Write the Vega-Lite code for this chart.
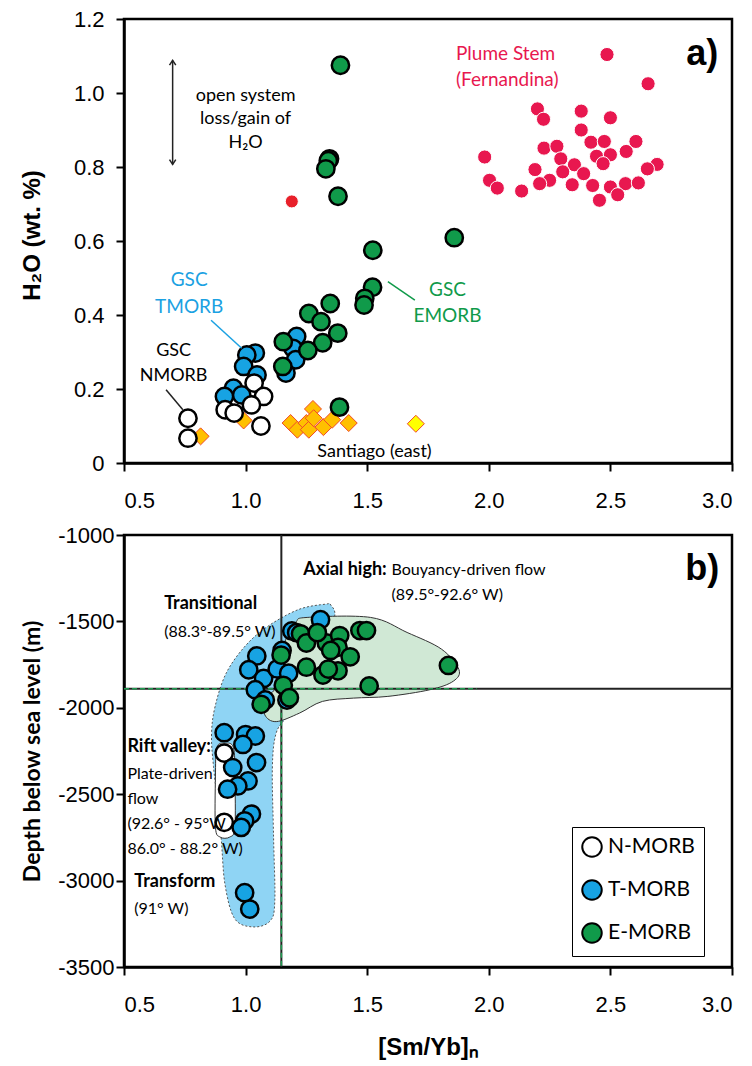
{
  "$schema": "https://vega.github.io/schema/vega-lite/v6.json",
  "background": "white",
  "padding": {"left": 18, "top": 6, "right": 5, "bottom": 5},
  "spacing": 9,
  "config": {
    "view": {"stroke": "black", "strokeWidth": 2.5},
    "axis": {"grid": false, "domainColor": "black", "domainWidth": 2.5, "tickColor": "black", "tickWidth": 2, "tickSize": 8, "labelFont": "Liberation Sans", "labelFontSize": 22, "labelColor": "black", "labelPadding": 4, "titleFont": "Liberation Sans", "titleFontSize": 24, "titleFontWeight": "bold", "titleColor": "black"},
    "axisX": {"labelPadding": 19}
  },
  "resolve": {"scale": {"fill": "independent"}, "legend": {"fill": "independent"}},
  "vconcat": [
    {
      "width": 608,
      "height": 444,
      "encoding": {
        "x": {"field": "x", "type": "quantitative", "scale": {"domain": [0.5, 3], "nice": false, "zero": false}, "axis": {"values": [0.5, 1, 1.5, 2, 2.5, 3], "format": ".1f", "title": null}},
        "y": {"field": "y", "type": "quantitative", "scale": {"domain": [0, 1.2], "nice": false, "zero": false}, "axis": {"values": [0, 0.2, 0.4, 0.6, 0.8, 1, 1.2], "labelExpr": "datum.value == 0 ? '0' : format(datum.value, '.1f')", "labelPadding": 12, "title": "H₂O (wt. %)", "titleX": -92, "titleY": 216, "titleBaseline": "middle"}}
      },
      "layer": [
        {
          "data": {"values": [{"y": 0.065, "y2": 0.365}]},
          "mark": {"type": "rect", "fill": "#d4d4d6"},
          "encoding": {"x": {"datum": 0.5}, "x2": {"datum": 3.0}, "y2": {"field": "y2"}}
        },
        {
          "data": {"values": [
            {"x": 0.815, "y": 0.072}, {"x": 0.992, "y": 0.115}, {"x": 1.185, "y": 0.108}, {"x": 1.213, "y": 0.09}, {"x": 1.25, "y": 0.108}, {"x": 1.277, "y": 0.146}, {"x": 1.26, "y": 0.09}, {"x": 1.28, "y": 0.121}, {"x": 1.32, "y": 0.097}, {"x": 1.356, "y": 0.117}, {"x": 1.424, "y": 0.108}
          ]},
          "mark": {"type": "point", "shape": "diamond", "filled": true, "fill": "#ffc000", "stroke": "#f04a28", "strokeWidth": 1, "size": 290, "opacity": 1}
        },
        {
          "data": {"values": [{"x": 1.70, "y": 0.106}]},
          "mark": {"type": "point", "shape": "diamond", "filled": true, "fill": "#ffff00", "stroke": "#f04a28", "strokeWidth": 1, "size": 290, "opacity": 1}
        },
        {
          "data": {"values": [
            {"x": 1.21, "y": 0.342, "type": "T-MORB"}, {"x": 1.195, "y": 0.31, "type": "T-MORB"}, {"x": 1.206, "y": 0.279, "type": "T-MORB"}, {"x": 1.166, "y": 0.243, "type": "T-MORB"}, {"x": 1.04, "y": 0.297, "type": "T-MORB"}, {"x": 1.005, "y": 0.292, "type": "T-MORB"}, {"x": 0.992, "y": 0.261, "type": "T-MORB"}, {"x": 1.047, "y": 0.238, "type": "T-MORB"}, {"x": 0.95, "y": 0.202, "type": "T-MORB"}, {"x": 0.913, "y": 0.18, "type": "T-MORB"}, {"x": 0.984, "y": 0.184, "type": "T-MORB"},
            {"x": 0.763, "y": 0.121, "type": "N-MORB"}, {"x": 0.763, "y": 0.067, "type": "N-MORB"}, {"x": 1.035, "y": 0.216, "type": "N-MORB"}, {"x": 1.074, "y": 0.18, "type": "N-MORB"}, {"x": 1.024, "y": 0.157, "type": "N-MORB"}, {"x": 0.916, "y": 0.144, "type": "N-MORB"}, {"x": 0.953, "y": 0.135, "type": "N-MORB"}, {"x": 1.063, "y": 0.10, "type": "N-MORB"},
            {"x": 1.39, "y": 1.075, "type": "E-MORB"}, {"x": 1.345, "y": 0.822, "type": "E-MORB"}, {"x": 1.34, "y": 0.817, "type": "E-MORB"}, {"x": 1.33, "y": 0.795, "type": "E-MORB"}, {"x": 1.38, "y": 0.721, "type": "E-MORB"}, {"x": 1.858, "y": 0.609, "type": "E-MORB"}, {"x": 1.523, "y": 0.575, "type": "E-MORB"}, {"x": 1.522, "y": 0.475, "type": "E-MORB"}, {"x": 1.49, "y": 0.445, "type": "E-MORB"}, {"x": 1.487, "y": 0.427, "type": "E-MORB"}, {"x": 1.348, "y": 0.431, "type": "E-MORB"}, {"x": 1.26, "y": 0.404, "type": "E-MORB"}, {"x": 1.31, "y": 0.382, "type": "E-MORB"}, {"x": 1.379, "y": 0.351, "type": "E-MORB"}, {"x": 1.317, "y": 0.325, "type": "E-MORB"}, {"x": 1.256, "y": 0.304, "type": "E-MORB"}, {"x": 1.155, "y": 0.328, "type": "E-MORB"}, {"x": 1.153, "y": 0.261, "type": "E-MORB"}, {"x": 1.386, "y": 0.151, "type": "E-MORB"}
          ]},
          "mark": {"type": "point", "shape": "circle", "filled": true, "stroke": "black", "strokeWidth": 2.5, "size": 300, "opacity": 1},
          "encoding": {"fill": {"field": "type", "type": "nominal", "scale": {"domain": ["N-MORB", "T-MORB", "E-MORB"], "range": ["white", "#17a3e3", "#109a4a"]}, "legend": null}}
        },
        {
          "data": {"values": [
            {"x": 2.486, "y": 1.104}, {"x": 2.655, "y": 1.025}, {"x": 2.2, "y": 0.957}, {"x": 2.225, "y": 0.929}, {"x": 2.38, "y": 0.951}, {"x": 2.5, "y": 0.933}, {"x": 2.38, "y": 0.9}, {"x": 2.227, "y": 0.851}, {"x": 2.28, "y": 0.856}, {"x": 2.42, "y": 0.867}, {"x": 2.475, "y": 0.869}, {"x": 2.605, "y": 0.869}, {"x": 2.565, "y": 0.842}, {"x": 1.983, "y": 0.827}, {"x": 2.296, "y": 0.822}, {"x": 2.443, "y": 0.829}, {"x": 2.5, "y": 0.833}, {"x": 2.47, "y": 0.809}, {"x": 2.352, "y": 0.806}, {"x": 2.692, "y": 0.807}, {"x": 2.652, "y": 0.795}, {"x": 2.19, "y": 0.793}, {"x": 2.304, "y": 0.787}, {"x": 2.39, "y": 0.782}, {"x": 2.25, "y": 0.764}, {"x": 2.209, "y": 0.755}, {"x": 2.003, "y": 0.764}, {"x": 2.035, "y": 0.743}, {"x": 2.135, "y": 0.735}, {"x": 2.343, "y": 0.752}, {"x": 2.427, "y": 0.75}, {"x": 2.5, "y": 0.746}, {"x": 2.562, "y": 0.755}, {"x": 2.615, "y": 0.757}, {"x": 2.455, "y": 0.71}, {"x": 2.53, "y": 0.725}
          ]},
          "mark": {"type": "point", "shape": "circle", "filled": true, "fill": "#e8174f", "stroke": "white", "strokeWidth": 1, "size": 200, "opacity": 1}
        },
        {
          "data": {"values": [{"x": 1.19, "y": 0.707}]},
          "mark": {"type": "point", "shape": "circle", "filled": true, "fill": "#e8202a", "stroke": "white", "strokeWidth": 1, "size": 170, "opacity": 1}
        },
        {
          "data": {"values": [{"x": 0.858, "y": 0.386, "x2": 0.984, "y2": 0.31}]},
          "mark": {"type": "rule", "color": "#1ba1e2", "strokeWidth": 1.5},
          "encoding": {"x2": {"field": "x2"}, "y2": {"field": "y2"}}
        },
        {
          "data": {"values": [{"x": 1.585, "y": 0.49, "x2": 1.696, "y2": 0.44}]},
          "mark": {"type": "rule", "color": "#109a4a", "strokeWidth": 1.5},
          "encoding": {"x2": {"field": "x2"}, "y2": {"field": "y2"}}
        },
        {
          "data": {"values": [{"x": 0.673, "y": 0.198, "x2": 0.742, "y2": 0.144}, {"x": 0.70, "y": 0.807, "x2": 0.70, "y2": 1.088}]},
          "mark": {"type": "rule", "color": "#222222", "strokeWidth": 1.5},
          "encoding": {"x2": {"field": "x2"}, "y2": {"field": "y2"}}
        },
        {
          "data": {"values": [{"x": 0.70, "y": 1.088}]},
          "mark": {"type": "point", "shape": "M-0.6,0.9L0,0L0.6,0.9", "filled": false, "stroke": "#222222", "strokeWidth": 1.5, "size": 110, "opacity": 1}
        },
        {
          "data": {"values": [{"x": 0.70, "y": 0.807}]},
          "mark": {"type": "point", "shape": "M-0.6,-0.9L0,0L0.6,-0.9", "filled": false, "stroke": "#222222", "strokeWidth": 1.5, "size": 110, "opacity": 1}
        },
        {
          "data": {"values": [
            {"x": 1.0, "y": 0.993, "t": "open system"}, {"x": 1.0, "y": 0.93, "t": "loss/gain of"}, {"x": 1.0, "y": 0.865, "t": "H₂O"},
            {"x": 0.704, "y": 0.302, "t": "GSC"}, {"x": 0.704, "y": 0.234, "t": "NMORB"},
            {"x": 1.53, "y": 0.031, "t": "Santiago (east)"}
          ]},
          "mark": {"type": "text", "font": "Lato", "fontSize": 18, "color": "black", "align": "center", "baseline": "middle"},
          "encoding": {"text": {"field": "t"}}
        },
        {
          "data": {"values": [{"x": 1.865, "y": 1.105, "t": "Plume Stem"}, {"x": 1.865, "y": 1.034, "t": "(Fernandina)"}]},
          "mark": {"type": "text", "font": "Lato", "fontSize": 19, "color": "#e8174f", "align": "left", "baseline": "middle"},
          "encoding": {"text": {"field": "t"}}
        },
        {
          "data": {"values": [{"x": 0.768, "y": 0.494, "t": "GSC"}, {"x": 0.768, "y": 0.422, "t": "TMORB"}]},
          "mark": {"type": "text", "font": "Lato", "fontSize": 19, "color": "#1ba1e2", "align": "center", "baseline": "middle"},
          "encoding": {"text": {"field": "t"}}
        },
        {
          "data": {"values": [{"x": 1.83, "y": 0.467, "t": "GSC"}, {"x": 1.83, "y": 0.396, "t": "EMORB"}]},
          "mark": {"type": "text", "font": "Lato", "fontSize": 19, "color": "#109a4a", "align": "center", "baseline": "middle"},
          "encoding": {"text": {"field": "t"}}
        },
        {
          "data": {"values": [{"x": 2.18, "y": 0.253, "t": "Undegassed"}, {"x": 2.18, "y": 0.189, "t": "Pacific MORB"}]},
          "mark": {"type": "text", "font": "Liberation Sans", "fontWeight": "bold", "fontSize": 21, "color": "white", "align": "center", "baseline": "middle"},
          "encoding": {"text": {"field": "t"}}
        },
        {
          "data": {"values": [{"x": 2.878, "y": 1.105, "t": "a)"}]},
          "mark": {"type": "text", "font": "Liberation Sans", "fontWeight": "bold", "fontSize": 36, "color": "black", "align": "center", "baseline": "middle"},
          "encoding": {"text": {"field": "t"}}
        }
      ]
    },
    {
      "width": 608,
      "height": 432,
      "encoding": {
        "x": {"field": "x", "type": "quantitative", "scale": {"domain": [0.5, 3], "nice": false, "zero": false}, "axis": {"values": [0.5, 1, 1.5, 2, 2.5, 3], "format": ".1f", "title": "[Sm/Yb]ₙ", "titlePadding": 20}},
        "y": {"field": "y", "type": "quantitative", "scale": {"domain": [-3500, -1000], "nice": false, "zero": false}, "axis": {"values": [-3500, -3000, -2500, -2000, -1500, -1000], "labelExpr": "'-' + format(abs(datum.value), 'd')", "labelPadding": 2, "title": "Depth below sea level (m)", "titleFont": "Lato", "titleFontSize": 23, "titleX": -92, "titleBaseline": "middle"}}
      },
      "layer": [
        {
          "data": {"values": [
            {"x": 1.35, "y": -1405, "i": 1}, {"x": 1.365, "y": -1480, "i": 2}, {"x": 1.30, "y": -1700, "i": 3}, {"x": 1.25, "y": -1900, "i": 4}, {"x": 1.17, "y": -2050, "i": 5}, {"x": 1.125, "y": -2150, "i": 6}, {"x": 1.11, "y": -2350, "i": 7}, {"x": 1.115, "y": -2750, "i": 8}, {"x": 1.12, "y": -3120, "i": 9}, {"x": 1.10, "y": -3235, "i": 10}, {"x": 1.03, "y": -3268, "i": 11}, {"x": 0.955, "y": -3220, "i": 12}, {"x": 0.915, "y": -3020, "i": 13}, {"x": 0.898, "y": -2730, "i": 14}, {"x": 0.868, "y": -2340, "i": 15}, {"x": 0.86, "y": -2150, "i": 16}, {"x": 0.875, "y": -1990, "i": 17}, {"x": 0.92, "y": -1800, "i": 18}, {"x": 1.0, "y": -1640, "i": 19}, {"x": 1.095, "y": -1525, "i": 20}, {"x": 1.22, "y": -1430, "i": 21}, {"x": 1.33, "y": -1400, "i": 22}
          ]},
          "mark": {"type": "line", "interpolate": "cardinal-closed", "fill": "#8fd4f4", "stroke": "#555555", "strokeWidth": 1, "strokeDash": [2, 2]},
          "encoding": {"order": {"field": "i", "type": "quantitative"}}
        },
        {
          "data": {"values": [
            {"x": 1.206, "y": -1506, "i": 1}, {"x": 1.253, "y": -1477, "i": 2}, {"x": 1.514, "y": -1477, "i": 3}, {"x": 1.664, "y": -1564, "i": 4}, {"x": 1.806, "y": -1661, "i": 5}, {"x": 1.877, "y": -1778, "i": 6}, {"x": 1.854, "y": -1846, "i": 7}, {"x": 1.759, "y": -1895, "i": 8}, {"x": 1.585, "y": -1934, "i": 9}, {"x": 1.443, "y": -1944, "i": 10}, {"x": 1.316, "y": -1963, "i": 11}, {"x": 1.221, "y": -2031, "i": 12}, {"x": 1.126, "y": -2080, "i": 13}, {"x": 1.079, "y": -2041, "i": 14}, {"x": 1.079, "y": -1953, "i": 15}, {"x": 1.126, "y": -1876, "i": 16}, {"x": 1.142, "y": -1700, "i": 17}, {"x": 1.166, "y": -1603, "i": 18}
          ]},
          "mark": {"type": "line", "interpolate": "cardinal-closed", "fill": "#d0e8d5", "stroke": "#333333", "strokeWidth": 1},
          "encoding": {"order": {"field": "i", "type": "quantitative"}}
        },
        {
          "data": {"values": [
            {"x": 0.915, "y": -2205, "i": 1}, {"x": 0.95, "y": -2230, "i": 2}, {"x": 0.956, "y": -2400, "i": 3}, {"x": 0.956, "y": -2690, "i": 4}, {"x": 0.935, "y": -2748, "i": 5}, {"x": 0.895, "y": -2748, "i": 6}, {"x": 0.876, "y": -2690, "i": 7}, {"x": 0.876, "y": -2400, "i": 8}, {"x": 0.882, "y": -2230, "i": 9}
          ]},
          "mark": {"type": "line", "interpolate": "cardinal-closed", "fill": "white", "stroke": "#333333", "strokeWidth": 1},
          "encoding": {"order": {"field": "i", "type": "quantitative"}}
        },
        {
          "data": {"values": [{"x": 0.5, "x2": 3.0, "y": -1890, "y2": -1890}, {"x": 1.147, "x2": 1.147, "y": -1000, "y2": -3500}]},
          "mark": {"type": "rule", "color": "#222222", "strokeWidth": 2},
          "encoding": {"x2": {"field": "x2"}, "y2": {"field": "y2"}}
        },
        {
          "data": {"values": [{"x": 0.5, "x2": 1.95, "y": -1890, "y2": -1890}, {"x": 1.147, "x2": 1.147, "y": -1890, "y2": -3500}]},
          "mark": {"type": "rule", "color": "#1f9a50", "strokeWidth": 1.5, "strokeDash": [5, 3]},
          "encoding": {"x2": {"field": "x2"}, "y2": {"field": "y2"}}
        },
        {
          "data": {"values": [
            {"x": 0.912, "y": -2262, "type": "N-MORB"}, {"x": 0.912, "y": -2663, "type": "N-MORB"},
            {"x": 1.308, "y": -1490, "type": "T-MORB"}, {"x": 1.19, "y": -1555, "type": "T-MORB"}, {"x": 1.21, "y": -1565, "type": "T-MORB"}, {"x": 1.15, "y": -1668, "type": "T-MORB"}, {"x": 1.046, "y": -1700, "type": "T-MORB"}, {"x": 1.013, "y": -1780, "type": "T-MORB"}, {"x": 1.074, "y": -1830, "type": "T-MORB"}, {"x": 1.13, "y": -1775, "type": "T-MORB"}, {"x": 1.177, "y": -1800, "type": "T-MORB"}, {"x": 1.04, "y": -1895, "type": "T-MORB"}, {"x": 1.081, "y": -1955, "type": "T-MORB"}, {"x": 1.17, "y": -1955, "type": "T-MORB"},
            {"x": 0.912, "y": -2144, "type": "T-MORB"}, {"x": 1.0, "y": -2155, "type": "T-MORB"}, {"x": 1.04, "y": -2163, "type": "T-MORB"}, {"x": 0.989, "y": -2212, "type": "T-MORB"}, {"x": 1.045, "y": -2317, "type": "T-MORB"}, {"x": 0.947, "y": -2346, "type": "T-MORB"}, {"x": 1.01, "y": -2423, "type": "T-MORB"}, {"x": 0.968, "y": -2452, "type": "T-MORB"}, {"x": 0.926, "y": -2471, "type": "T-MORB"}, {"x": 1.024, "y": -2615, "type": "T-MORB"}, {"x": 0.996, "y": -2654, "type": "T-MORB"}, {"x": 0.982, "y": -2692, "type": "T-MORB"}, {"x": 0.996, "y": -3070, "type": "T-MORB"}, {"x": 1.017, "y": -3165, "type": "T-MORB"},
            {"x": 1.146, "y": -1695, "type": "E-MORB"}, {"x": 1.226, "y": -1572, "type": "E-MORB"}, {"x": 1.25, "y": -1625, "type": "E-MORB"}, {"x": 1.332, "y": -1625, "type": "E-MORB"}, {"x": 1.387, "y": -1582, "type": "E-MORB"}, {"x": 1.38, "y": -1650, "type": "E-MORB"}, {"x": 1.47, "y": -1553, "type": "E-MORB"}, {"x": 1.497, "y": -1553, "type": "E-MORB"}, {"x": 1.43, "y": -1705, "type": "E-MORB"}, {"x": 1.25, "y": -1765, "type": "E-MORB"}, {"x": 1.318, "y": -1810, "type": "E-MORB"}, {"x": 1.38, "y": -1786, "type": "E-MORB"}, {"x": 1.34, "y": -1776, "type": "E-MORB"}, {"x": 1.155, "y": -1870, "type": "E-MORB"}, {"x": 1.18, "y": -1942, "type": "E-MORB"}, {"x": 1.064, "y": -1980, "type": "E-MORB"}, {"x": 1.508, "y": -1874, "type": "E-MORB"}, {"x": 1.834, "y": -1755, "type": "E-MORB"}, {"x": 1.295, "y": -1565, "type": "E-MORB"}, {"x": 1.35, "y": -1668, "type": "E-MORB"}
          ]},
          "mark": {"type": "point", "shape": "circle", "filled": true, "stroke": "black", "strokeWidth": 2.5, "size": 300, "opacity": 1},
          "encoding": {"fill": {"field": "type", "type": "nominal", "scale": {"domain": ["N-MORB", "T-MORB", "E-MORB"], "range": ["white", "#17a3e3", "#109a4a"]}, "legend": {"title": null, "orient": "none", "legendX": 448, "legendY": 292, "strokeColor": "black", "fillColor": "white", "padding": 9, "symbolType": "circle", "symbolSize": 380, "symbolStrokeColor": "black", "symbolStrokeWidth": 2, "symbolOpacity": 1, "labelFont": "Lato", "labelFontSize": 21, "labelColor": "black", "labelOffset": 5, "rowPadding": 15}}}
        },
        {
          "data": {"values": [
            {"x": 1.237, "y": -1204, "t": "Axial high:"}, {"x": 0.665, "y": -1399, "t": "Transitional"}, {"x": 0.514, "y": -2228, "t": "Rift valley:"}, {"x": 0.542, "y": -3010, "t": "Transform"}
          ]},
          "mark": {"type": "text", "font": "Lato", "fontWeight": "bold", "fontSize": 18, "color": "black", "align": "left", "baseline": "middle"},
          "encoding": {"text": {"field": "t"}}
        },
        {
          "data": {"values": [
            {"x": 1.60, "y": -1204, "t": "Bouyancy-driven flow"}, {"x": 1.60, "y": -1350, "t": "(89.5°-92.6° W)"}, {"x": 0.665, "y": -1564, "t": "(88.3°-89.5° W)"},
            {"x": 0.514, "y": -2385, "t": "Plate-driven"}, {"x": 0.514, "y": -2525, "t": "flow"}, {"x": 0.514, "y": -2673, "t": "(92.6° - 95°W"}, {"x": 0.514, "y": -2817, "t": "86.0° - 88.2° W)"}, {"x": 0.542, "y": -3163, "t": "(91° W)"}
          ]},
          "mark": {"type": "text", "font": "Lato", "fontSize": 16, "color": "black", "align": "left", "baseline": "middle"},
          "encoding": {"text": {"field": "t"}}
        },
        {
          "data": {"values": [{"x": 2.878, "y": -1195, "t": "b)"}]},
          "mark": {"type": "text", "font": "Liberation Sans", "fontWeight": "bold", "fontSize": 36, "color": "black", "align": "center", "baseline": "middle"},
          "encoding": {"text": {"field": "t"}}
        }
      ]
    }
  ]
}
